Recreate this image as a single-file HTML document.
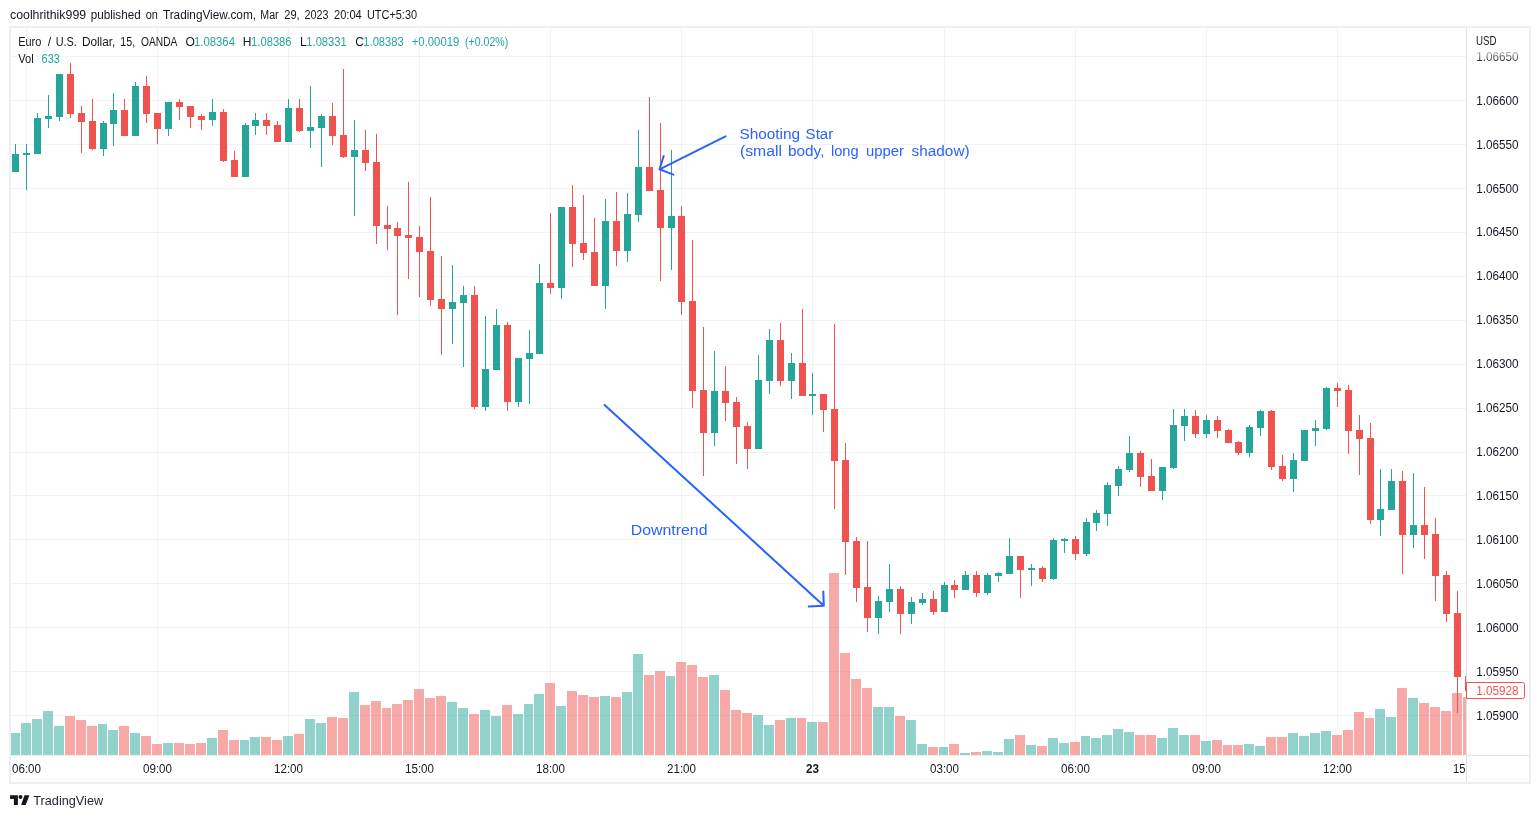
<!DOCTYPE html><html><head><meta charset="utf-8"><title>EURUSD chart</title>
<style>html,body{margin:0;padding:0;background:#fff;}body{width:1540px;height:818px;overflow:hidden;position:relative;font-family:"Liberation Sans",sans-serif;}svg{position:absolute;left:0;top:0;display:block;will-change:transform}text{font-family:"Liberation Sans",sans-serif;}</style></head><body>
<svg width="1540" height="818" viewBox="0 0 1540 818">
<rect x="0" y="0" width="1540" height="818" fill="#fff"/>
<linearGradient id="fade" gradientUnits="userSpaceOnUse" x1="0" y1="52" x2="0" y2="61"><stop offset="0" stop-color="#b4b7be"/><stop offset="1" stop-color="#2a2e39"/></linearGradient>
<clipPath id="pane"><rect x="11" y="28" width="1455" height="727"/></clipPath>
<g shape-rendering="crispEdges">
<g fill="rgba(42,46,57,0.06)">
<rect x="11" y="56" width="1455" height="1"/>
<rect x="11" y="100" width="1455" height="1"/>
<rect x="11" y="144" width="1455" height="1"/>
<rect x="11" y="188" width="1455" height="1"/>
<rect x="11" y="232" width="1455" height="1"/>
<rect x="11" y="276" width="1455" height="1"/>
<rect x="11" y="320" width="1455" height="1"/>
<rect x="11" y="364" width="1455" height="1"/>
<rect x="11" y="408" width="1455" height="1"/>
<rect x="11" y="452" width="1455" height="1"/>
<rect x="11" y="495" width="1455" height="1"/>
<rect x="11" y="539" width="1455" height="1"/>
<rect x="11" y="583" width="1455" height="1"/>
<rect x="11" y="627" width="1455" height="1"/>
<rect x="11" y="671" width="1455" height="1"/>
<rect x="11" y="715" width="1455" height="1"/>
<rect x="26" y="28" width="1" height="727"/>
<rect x="157" y="28" width="1" height="727"/>
<rect x="288" y="28" width="1" height="727"/>
<rect x="419" y="28" width="1" height="727"/>
<rect x="550" y="28" width="1" height="727"/>
<rect x="681" y="28" width="1" height="727"/>
<rect x="812" y="28" width="1" height="727"/>
<rect x="944" y="28" width="1" height="727"/>
<rect x="1075" y="28" width="1" height="727"/>
<rect x="1206" y="28" width="1" height="727"/>
<rect x="1337" y="28" width="1" height="727"/>
</g>
<g clip-path="url(#pane)">
<rect x="10" y="733" width="10" height="22" fill="#26a69a" fill-opacity="0.5"/>
<rect x="21" y="723" width="10" height="32" fill="#26a69a" fill-opacity="0.5"/>
<rect x="32" y="719" width="10" height="36" fill="#26a69a" fill-opacity="0.5"/>
<rect x="43" y="711" width="10" height="44" fill="#26a69a" fill-opacity="0.5"/>
<rect x="54" y="726" width="10" height="29" fill="#26a69a" fill-opacity="0.5"/>
<rect x="65" y="716" width="10" height="39" fill="#ef5350" fill-opacity="0.5"/>
<rect x="76" y="720" width="10" height="35" fill="#ef5350" fill-opacity="0.5"/>
<rect x="87" y="726" width="10" height="29" fill="#ef5350" fill-opacity="0.5"/>
<rect x="98" y="724" width="9" height="31" fill="#26a69a" fill-opacity="0.5"/>
<rect x="108" y="730" width="10" height="25" fill="#26a69a" fill-opacity="0.5"/>
<rect x="119" y="726" width="10" height="29" fill="#ef5350" fill-opacity="0.5"/>
<rect x="130" y="733" width="10" height="22" fill="#26a69a" fill-opacity="0.5"/>
<rect x="141" y="736" width="10" height="19" fill="#ef5350" fill-opacity="0.5"/>
<rect x="152" y="744" width="10" height="11" fill="#ef5350" fill-opacity="0.5"/>
<rect x="163" y="743" width="10" height="12" fill="#26a69a" fill-opacity="0.5"/>
<rect x="174" y="743" width="10" height="12" fill="#ef5350" fill-opacity="0.5"/>
<rect x="185" y="744" width="10" height="11" fill="#ef5350" fill-opacity="0.5"/>
<rect x="196" y="743" width="10" height="12" fill="#ef5350" fill-opacity="0.5"/>
<rect x="207" y="738" width="10" height="17" fill="#26a69a" fill-opacity="0.5"/>
<rect x="218" y="730" width="10" height="25" fill="#ef5350" fill-opacity="0.5"/>
<rect x="229" y="740" width="10" height="15" fill="#ef5350" fill-opacity="0.5"/>
<rect x="240" y="740" width="9" height="15" fill="#26a69a" fill-opacity="0.5"/>
<rect x="250" y="737" width="10" height="18" fill="#26a69a" fill-opacity="0.5"/>
<rect x="261" y="737" width="10" height="18" fill="#ef5350" fill-opacity="0.5"/>
<rect x="272" y="740" width="10" height="15" fill="#ef5350" fill-opacity="0.5"/>
<rect x="283" y="736" width="10" height="19" fill="#26a69a" fill-opacity="0.5"/>
<rect x="294" y="734" width="10" height="21" fill="#ef5350" fill-opacity="0.5"/>
<rect x="305" y="719" width="10" height="36" fill="#26a69a" fill-opacity="0.5"/>
<rect x="316" y="723" width="10" height="32" fill="#26a69a" fill-opacity="0.5"/>
<rect x="327" y="717" width="10" height="38" fill="#ef5350" fill-opacity="0.5"/>
<rect x="338" y="718" width="10" height="37" fill="#ef5350" fill-opacity="0.5"/>
<rect x="349" y="692" width="10" height="63" fill="#26a69a" fill-opacity="0.5"/>
<rect x="360" y="705" width="10" height="50" fill="#ef5350" fill-opacity="0.5"/>
<rect x="371" y="701" width="10" height="54" fill="#ef5350" fill-opacity="0.5"/>
<rect x="382" y="708" width="9" height="47" fill="#ef5350" fill-opacity="0.5"/>
<rect x="392" y="704" width="10" height="51" fill="#ef5350" fill-opacity="0.5"/>
<rect x="403" y="700" width="10" height="55" fill="#ef5350" fill-opacity="0.5"/>
<rect x="414" y="689" width="10" height="66" fill="#ef5350" fill-opacity="0.5"/>
<rect x="425" y="698" width="10" height="57" fill="#ef5350" fill-opacity="0.5"/>
<rect x="436" y="696" width="10" height="59" fill="#ef5350" fill-opacity="0.5"/>
<rect x="447" y="702" width="10" height="53" fill="#26a69a" fill-opacity="0.5"/>
<rect x="458" y="708" width="10" height="47" fill="#26a69a" fill-opacity="0.5"/>
<rect x="469" y="714" width="10" height="41" fill="#ef5350" fill-opacity="0.5"/>
<rect x="480" y="710" width="10" height="45" fill="#26a69a" fill-opacity="0.5"/>
<rect x="491" y="716" width="10" height="39" fill="#26a69a" fill-opacity="0.5"/>
<rect x="502" y="705" width="10" height="50" fill="#ef5350" fill-opacity="0.5"/>
<rect x="513" y="714" width="10" height="41" fill="#26a69a" fill-opacity="0.5"/>
<rect x="524" y="704" width="9" height="51" fill="#26a69a" fill-opacity="0.5"/>
<rect x="534" y="694" width="10" height="61" fill="#26a69a" fill-opacity="0.5"/>
<rect x="545" y="683" width="10" height="72" fill="#ef5350" fill-opacity="0.5"/>
<rect x="556" y="706" width="10" height="49" fill="#26a69a" fill-opacity="0.5"/>
<rect x="567" y="691" width="10" height="64" fill="#ef5350" fill-opacity="0.5"/>
<rect x="578" y="695" width="10" height="60" fill="#ef5350" fill-opacity="0.5"/>
<rect x="589" y="697" width="10" height="58" fill="#ef5350" fill-opacity="0.5"/>
<rect x="600" y="696" width="10" height="59" fill="#26a69a" fill-opacity="0.5"/>
<rect x="611" y="697" width="10" height="58" fill="#ef5350" fill-opacity="0.5"/>
<rect x="622" y="692" width="10" height="63" fill="#26a69a" fill-opacity="0.5"/>
<rect x="633" y="654" width="10" height="101" fill="#26a69a" fill-opacity="0.5"/>
<rect x="644" y="675" width="10" height="80" fill="#ef5350" fill-opacity="0.5"/>
<rect x="655" y="671" width="10" height="84" fill="#ef5350" fill-opacity="0.5"/>
<rect x="666" y="676" width="9" height="79" fill="#26a69a" fill-opacity="0.5"/>
<rect x="676" y="662" width="10" height="93" fill="#ef5350" fill-opacity="0.5"/>
<rect x="687" y="665" width="10" height="90" fill="#ef5350" fill-opacity="0.5"/>
<rect x="698" y="677" width="10" height="78" fill="#ef5350" fill-opacity="0.5"/>
<rect x="709" y="675" width="10" height="80" fill="#26a69a" fill-opacity="0.5"/>
<rect x="720" y="690" width="10" height="65" fill="#ef5350" fill-opacity="0.5"/>
<rect x="731" y="710" width="10" height="45" fill="#ef5350" fill-opacity="0.5"/>
<rect x="742" y="713" width="10" height="42" fill="#ef5350" fill-opacity="0.5"/>
<rect x="753" y="715" width="10" height="40" fill="#26a69a" fill-opacity="0.5"/>
<rect x="764" y="725" width="10" height="30" fill="#26a69a" fill-opacity="0.5"/>
<rect x="775" y="720" width="10" height="35" fill="#ef5350" fill-opacity="0.5"/>
<rect x="786" y="718" width="10" height="37" fill="#26a69a" fill-opacity="0.5"/>
<rect x="797" y="718" width="9" height="37" fill="#ef5350" fill-opacity="0.5"/>
<rect x="807" y="722" width="10" height="33" fill="#26a69a" fill-opacity="0.5"/>
<rect x="818" y="722" width="10" height="33" fill="#ef5350" fill-opacity="0.5"/>
<rect x="829" y="573" width="10" height="182" fill="#ef5350" fill-opacity="0.5"/>
<rect x="840" y="653" width="10" height="102" fill="#ef5350" fill-opacity="0.5"/>
<rect x="851" y="679" width="10" height="76" fill="#ef5350" fill-opacity="0.5"/>
<rect x="862" y="688" width="10" height="67" fill="#ef5350" fill-opacity="0.5"/>
<rect x="873" y="707" width="10" height="48" fill="#26a69a" fill-opacity="0.5"/>
<rect x="884" y="707" width="10" height="48" fill="#26a69a" fill-opacity="0.5"/>
<rect x="895" y="716" width="10" height="39" fill="#ef5350" fill-opacity="0.5"/>
<rect x="906" y="720" width="10" height="35" fill="#26a69a" fill-opacity="0.5"/>
<rect x="917" y="744" width="10" height="11" fill="#26a69a" fill-opacity="0.5"/>
<rect x="928" y="747" width="10" height="8" fill="#ef5350" fill-opacity="0.5"/>
<rect x="939" y="747" width="9" height="8" fill="#26a69a" fill-opacity="0.5"/>
<rect x="949" y="744" width="10" height="11" fill="#ef5350" fill-opacity="0.5"/>
<rect x="960" y="753" width="10" height="2" fill="#26a69a" fill-opacity="0.5"/>
<rect x="971" y="752" width="10" height="3" fill="#ef5350" fill-opacity="0.5"/>
<rect x="982" y="751" width="10" height="4" fill="#26a69a" fill-opacity="0.5"/>
<rect x="993" y="752" width="10" height="3" fill="#26a69a" fill-opacity="0.5"/>
<rect x="1004" y="739" width="10" height="16" fill="#26a69a" fill-opacity="0.5"/>
<rect x="1015" y="735" width="10" height="20" fill="#ef5350" fill-opacity="0.5"/>
<rect x="1026" y="745" width="10" height="10" fill="#26a69a" fill-opacity="0.5"/>
<rect x="1037" y="746" width="10" height="9" fill="#ef5350" fill-opacity="0.5"/>
<rect x="1048" y="738" width="10" height="17" fill="#26a69a" fill-opacity="0.5"/>
<rect x="1059" y="743" width="10" height="12" fill="#26a69a" fill-opacity="0.5"/>
<rect x="1070" y="742" width="10" height="13" fill="#ef5350" fill-opacity="0.5"/>
<rect x="1081" y="736" width="9" height="19" fill="#26a69a" fill-opacity="0.5"/>
<rect x="1091" y="738" width="10" height="17" fill="#26a69a" fill-opacity="0.5"/>
<rect x="1102" y="735" width="10" height="20" fill="#26a69a" fill-opacity="0.5"/>
<rect x="1113" y="729" width="10" height="26" fill="#26a69a" fill-opacity="0.5"/>
<rect x="1124" y="732" width="10" height="23" fill="#26a69a" fill-opacity="0.5"/>
<rect x="1135" y="735" width="10" height="20" fill="#ef5350" fill-opacity="0.5"/>
<rect x="1146" y="735" width="10" height="20" fill="#ef5350" fill-opacity="0.5"/>
<rect x="1157" y="738" width="10" height="17" fill="#26a69a" fill-opacity="0.5"/>
<rect x="1168" y="728" width="10" height="27" fill="#26a69a" fill-opacity="0.5"/>
<rect x="1179" y="735" width="10" height="20" fill="#26a69a" fill-opacity="0.5"/>
<rect x="1190" y="735" width="10" height="20" fill="#ef5350" fill-opacity="0.5"/>
<rect x="1201" y="741" width="10" height="14" fill="#26a69a" fill-opacity="0.5"/>
<rect x="1212" y="740" width="10" height="15" fill="#ef5350" fill-opacity="0.5"/>
<rect x="1223" y="745" width="9" height="10" fill="#ef5350" fill-opacity="0.5"/>
<rect x="1233" y="745" width="10" height="10" fill="#ef5350" fill-opacity="0.5"/>
<rect x="1244" y="744" width="10" height="11" fill="#26a69a" fill-opacity="0.5"/>
<rect x="1255" y="746" width="10" height="9" fill="#26a69a" fill-opacity="0.5"/>
<rect x="1266" y="737" width="10" height="18" fill="#ef5350" fill-opacity="0.5"/>
<rect x="1277" y="737" width="10" height="18" fill="#ef5350" fill-opacity="0.5"/>
<rect x="1288" y="733" width="10" height="22" fill="#26a69a" fill-opacity="0.5"/>
<rect x="1299" y="736" width="10" height="19" fill="#26a69a" fill-opacity="0.5"/>
<rect x="1310" y="733" width="10" height="22" fill="#26a69a" fill-opacity="0.5"/>
<rect x="1321" y="731" width="10" height="24" fill="#26a69a" fill-opacity="0.5"/>
<rect x="1332" y="735" width="10" height="20" fill="#ef5350" fill-opacity="0.5"/>
<rect x="1343" y="730" width="10" height="25" fill="#ef5350" fill-opacity="0.5"/>
<rect x="1354" y="712" width="10" height="43" fill="#ef5350" fill-opacity="0.5"/>
<rect x="1365" y="718" width="9" height="37" fill="#ef5350" fill-opacity="0.5"/>
<rect x="1375" y="709" width="10" height="46" fill="#26a69a" fill-opacity="0.5"/>
<rect x="1386" y="717" width="10" height="38" fill="#26a69a" fill-opacity="0.5"/>
<rect x="1397" y="688" width="10" height="67" fill="#ef5350" fill-opacity="0.5"/>
<rect x="1408" y="698" width="10" height="57" fill="#26a69a" fill-opacity="0.5"/>
<rect x="1419" y="703" width="10" height="52" fill="#ef5350" fill-opacity="0.5"/>
<rect x="1430" y="707" width="10" height="48" fill="#ef5350" fill-opacity="0.5"/>
<rect x="1441" y="711" width="10" height="44" fill="#ef5350" fill-opacity="0.5"/>
<rect x="1452" y="693" width="10" height="62" fill="#ef5350" fill-opacity="0.5"/>
<rect x="1463" y="697" width="10" height="58" fill="#ef5350" fill-opacity="0.5"/>
<rect x="15" y="144" width="1" height="28" fill="#26a69a"/>
<rect x="12" y="154" width="7" height="18" fill="#26a69a"/>
<rect x="26" y="144" width="1" height="46" fill="#26a69a"/>
<rect x="23" y="153" width="7" height="2" fill="#26a69a"/>
<rect x="37" y="113" width="1" height="41" fill="#26a69a"/>
<rect x="34" y="118" width="7" height="36" fill="#26a69a"/>
<rect x="48" y="95" width="1" height="33" fill="#26a69a"/>
<rect x="45" y="116" width="7" height="3" fill="#26a69a"/>
<rect x="59" y="74" width="1" height="47" fill="#26a69a"/>
<rect x="56" y="74" width="7" height="43" fill="#26a69a"/>
<rect x="70" y="63" width="1" height="55" fill="#ef5350"/>
<rect x="67" y="74" width="7" height="40" fill="#ef5350"/>
<rect x="81" y="106" width="1" height="47" fill="#ef5350"/>
<rect x="78" y="113" width="7" height="9" fill="#ef5350"/>
<rect x="92" y="99" width="1" height="51" fill="#ef5350"/>
<rect x="89" y="121" width="7" height="28" fill="#ef5350"/>
<rect x="103" y="121" width="1" height="35" fill="#26a69a"/>
<rect x="100" y="123" width="7" height="26" fill="#26a69a"/>
<rect x="113" y="93" width="1" height="53" fill="#26a69a"/>
<rect x="110" y="110" width="7" height="14" fill="#26a69a"/>
<rect x="124" y="99" width="1" height="37" fill="#ef5350"/>
<rect x="121" y="110" width="7" height="26" fill="#ef5350"/>
<rect x="135" y="82" width="1" height="54" fill="#26a69a"/>
<rect x="132" y="86" width="7" height="50" fill="#26a69a"/>
<rect x="146" y="76" width="1" height="47" fill="#ef5350"/>
<rect x="143" y="86" width="7" height="28" fill="#ef5350"/>
<rect x="157" y="113" width="1" height="31" fill="#ef5350"/>
<rect x="154" y="113" width="7" height="16" fill="#ef5350"/>
<rect x="168" y="102" width="1" height="34" fill="#26a69a"/>
<rect x="165" y="102" width="7" height="27" fill="#26a69a"/>
<rect x="179" y="99" width="1" height="21" fill="#ef5350"/>
<rect x="176" y="102" width="7" height="5" fill="#ef5350"/>
<rect x="190" y="106" width="1" height="22" fill="#ef5350"/>
<rect x="187" y="106" width="7" height="11" fill="#ef5350"/>
<rect x="201" y="114" width="1" height="16" fill="#ef5350"/>
<rect x="198" y="116" width="7" height="4" fill="#ef5350"/>
<rect x="212" y="99" width="1" height="27" fill="#26a69a"/>
<rect x="209" y="112" width="7" height="8" fill="#26a69a"/>
<rect x="223" y="109" width="1" height="53" fill="#ef5350"/>
<rect x="220" y="112" width="7" height="49" fill="#ef5350"/>
<rect x="234" y="151" width="1" height="26" fill="#ef5350"/>
<rect x="231" y="160" width="7" height="17" fill="#ef5350"/>
<rect x="245" y="123" width="1" height="54" fill="#26a69a"/>
<rect x="242" y="125" width="7" height="52" fill="#26a69a"/>
<rect x="255" y="113" width="1" height="22" fill="#26a69a"/>
<rect x="252" y="120" width="7" height="6" fill="#26a69a"/>
<rect x="266" y="113" width="1" height="22" fill="#ef5350"/>
<rect x="263" y="120" width="7" height="6" fill="#ef5350"/>
<rect x="277" y="121" width="1" height="21" fill="#ef5350"/>
<rect x="274" y="125" width="7" height="17" fill="#ef5350"/>
<rect x="288" y="99" width="1" height="43" fill="#26a69a"/>
<rect x="285" y="108" width="7" height="34" fill="#26a69a"/>
<rect x="299" y="99" width="1" height="33" fill="#ef5350"/>
<rect x="296" y="108" width="7" height="23" fill="#ef5350"/>
<rect x="310" y="86" width="1" height="62" fill="#26a69a"/>
<rect x="307" y="127" width="7" height="4" fill="#26a69a"/>
<rect x="321" y="114" width="1" height="53" fill="#26a69a"/>
<rect x="318" y="116" width="7" height="12" fill="#26a69a"/>
<rect x="332" y="103" width="1" height="42" fill="#ef5350"/>
<rect x="329" y="116" width="7" height="20" fill="#ef5350"/>
<rect x="343" y="69" width="1" height="89" fill="#ef5350"/>
<rect x="340" y="135" width="7" height="22" fill="#ef5350"/>
<rect x="354" y="120" width="1" height="96" fill="#26a69a"/>
<rect x="351" y="150" width="7" height="7" fill="#26a69a"/>
<rect x="365" y="130" width="1" height="41" fill="#ef5350"/>
<rect x="362" y="150" width="7" height="13" fill="#ef5350"/>
<rect x="376" y="134" width="1" height="110" fill="#ef5350"/>
<rect x="373" y="162" width="7" height="64" fill="#ef5350"/>
<rect x="387" y="206" width="1" height="44" fill="#ef5350"/>
<rect x="384" y="225" width="7" height="4" fill="#ef5350"/>
<rect x="397" y="222" width="1" height="93" fill="#ef5350"/>
<rect x="394" y="228" width="7" height="8" fill="#ef5350"/>
<rect x="408" y="182" width="1" height="97" fill="#ef5350"/>
<rect x="405" y="235" width="7" height="3" fill="#ef5350"/>
<rect x="419" y="226" width="1" height="71" fill="#ef5350"/>
<rect x="416" y="237" width="7" height="15" fill="#ef5350"/>
<rect x="430" y="197" width="1" height="109" fill="#ef5350"/>
<rect x="427" y="251" width="7" height="49" fill="#ef5350"/>
<rect x="441" y="256" width="1" height="99" fill="#ef5350"/>
<rect x="438" y="299" width="7" height="10" fill="#ef5350"/>
<rect x="452" y="265" width="1" height="79" fill="#26a69a"/>
<rect x="449" y="302" width="7" height="7" fill="#26a69a"/>
<rect x="463" y="286" width="1" height="81" fill="#26a69a"/>
<rect x="460" y="295" width="7" height="8" fill="#26a69a"/>
<rect x="474" y="286" width="1" height="123" fill="#ef5350"/>
<rect x="471" y="295" width="7" height="112" fill="#ef5350"/>
<rect x="485" y="316" width="1" height="95" fill="#26a69a"/>
<rect x="482" y="369" width="7" height="38" fill="#26a69a"/>
<rect x="496" y="309" width="1" height="61" fill="#26a69a"/>
<rect x="493" y="325" width="7" height="45" fill="#26a69a"/>
<rect x="507" y="322" width="1" height="89" fill="#ef5350"/>
<rect x="504" y="325" width="7" height="77" fill="#ef5350"/>
<rect x="518" y="358" width="1" height="49" fill="#26a69a"/>
<rect x="515" y="358" width="7" height="44" fill="#26a69a"/>
<rect x="529" y="330" width="1" height="74" fill="#26a69a"/>
<rect x="526" y="353" width="7" height="6" fill="#26a69a"/>
<rect x="539" y="264" width="1" height="90" fill="#26a69a"/>
<rect x="536" y="283" width="7" height="71" fill="#26a69a"/>
<rect x="550" y="213" width="1" height="81" fill="#ef5350"/>
<rect x="547" y="283" width="7" height="5" fill="#ef5350"/>
<rect x="561" y="207" width="1" height="92" fill="#26a69a"/>
<rect x="558" y="207" width="7" height="81" fill="#26a69a"/>
<rect x="572" y="185" width="1" height="82" fill="#ef5350"/>
<rect x="569" y="207" width="7" height="37" fill="#ef5350"/>
<rect x="583" y="195" width="1" height="65" fill="#ef5350"/>
<rect x="580" y="243" width="7" height="10" fill="#ef5350"/>
<rect x="594" y="218" width="1" height="68" fill="#ef5350"/>
<rect x="591" y="252" width="7" height="34" fill="#ef5350"/>
<rect x="605" y="199" width="1" height="110" fill="#26a69a"/>
<rect x="602" y="221" width="7" height="65" fill="#26a69a"/>
<rect x="616" y="192" width="1" height="74" fill="#ef5350"/>
<rect x="613" y="221" width="7" height="30" fill="#ef5350"/>
<rect x="627" y="193" width="1" height="69" fill="#26a69a"/>
<rect x="624" y="214" width="7" height="37" fill="#26a69a"/>
<rect x="638" y="130" width="1" height="92" fill="#26a69a"/>
<rect x="635" y="167" width="7" height="48" fill="#26a69a"/>
<rect x="649" y="97" width="1" height="94" fill="#ef5350"/>
<rect x="646" y="167" width="7" height="24" fill="#ef5350"/>
<rect x="660" y="123" width="1" height="158" fill="#ef5350"/>
<rect x="657" y="190" width="7" height="38" fill="#ef5350"/>
<rect x="671" y="150" width="1" height="120" fill="#26a69a"/>
<rect x="668" y="216" width="7" height="12" fill="#26a69a"/>
<rect x="681" y="206" width="1" height="109" fill="#ef5350"/>
<rect x="678" y="216" width="7" height="86" fill="#ef5350"/>
<rect x="692" y="240" width="1" height="168" fill="#ef5350"/>
<rect x="689" y="301" width="7" height="90" fill="#ef5350"/>
<rect x="703" y="327" width="1" height="149" fill="#ef5350"/>
<rect x="700" y="390" width="7" height="43" fill="#ef5350"/>
<rect x="714" y="351" width="1" height="95" fill="#26a69a"/>
<rect x="711" y="391" width="7" height="42" fill="#26a69a"/>
<rect x="725" y="366" width="1" height="55" fill="#ef5350"/>
<rect x="722" y="391" width="7" height="12" fill="#ef5350"/>
<rect x="736" y="397" width="1" height="67" fill="#ef5350"/>
<rect x="733" y="402" width="7" height="25" fill="#ef5350"/>
<rect x="747" y="422" width="1" height="47" fill="#ef5350"/>
<rect x="744" y="426" width="7" height="23" fill="#ef5350"/>
<rect x="758" y="355" width="1" height="94" fill="#26a69a"/>
<rect x="755" y="380" width="7" height="69" fill="#26a69a"/>
<rect x="769" y="329" width="1" height="65" fill="#26a69a"/>
<rect x="766" y="340" width="7" height="41" fill="#26a69a"/>
<rect x="780" y="323" width="1" height="63" fill="#ef5350"/>
<rect x="777" y="340" width="7" height="41" fill="#ef5350"/>
<rect x="791" y="353" width="1" height="46" fill="#26a69a"/>
<rect x="788" y="363" width="7" height="18" fill="#26a69a"/>
<rect x="802" y="309" width="1" height="87" fill="#ef5350"/>
<rect x="799" y="363" width="7" height="33" fill="#ef5350"/>
<rect x="812" y="373" width="1" height="42" fill="#26a69a"/>
<rect x="809" y="394" width="7" height="2" fill="#26a69a"/>
<rect x="823" y="394" width="1" height="38" fill="#ef5350"/>
<rect x="820" y="394" width="7" height="16" fill="#ef5350"/>
<rect x="834" y="324" width="1" height="185" fill="#ef5350"/>
<rect x="831" y="409" width="7" height="52" fill="#ef5350"/>
<rect x="845" y="443" width="1" height="132" fill="#ef5350"/>
<rect x="842" y="460" width="7" height="82" fill="#ef5350"/>
<rect x="856" y="537" width="1" height="65" fill="#ef5350"/>
<rect x="853" y="541" width="7" height="47" fill="#ef5350"/>
<rect x="867" y="541" width="1" height="91" fill="#ef5350"/>
<rect x="864" y="587" width="7" height="31" fill="#ef5350"/>
<rect x="878" y="596" width="1" height="38" fill="#26a69a"/>
<rect x="875" y="601" width="7" height="17" fill="#26a69a"/>
<rect x="889" y="564" width="1" height="48" fill="#26a69a"/>
<rect x="886" y="589" width="7" height="13" fill="#26a69a"/>
<rect x="900" y="586" width="1" height="48" fill="#ef5350"/>
<rect x="897" y="589" width="7" height="25" fill="#ef5350"/>
<rect x="911" y="597" width="1" height="27" fill="#26a69a"/>
<rect x="908" y="602" width="7" height="12" fill="#26a69a"/>
<rect x="922" y="593" width="1" height="12" fill="#26a69a"/>
<rect x="919" y="599" width="7" height="4" fill="#26a69a"/>
<rect x="933" y="591" width="1" height="24" fill="#ef5350"/>
<rect x="930" y="599" width="7" height="13" fill="#ef5350"/>
<rect x="944" y="582" width="1" height="30" fill="#26a69a"/>
<rect x="941" y="585" width="7" height="27" fill="#26a69a"/>
<rect x="954" y="580" width="1" height="18" fill="#ef5350"/>
<rect x="951" y="585" width="7" height="5" fill="#ef5350"/>
<rect x="965" y="571" width="1" height="19" fill="#26a69a"/>
<rect x="962" y="575" width="7" height="15" fill="#26a69a"/>
<rect x="976" y="571" width="1" height="26" fill="#ef5350"/>
<rect x="973" y="575" width="7" height="18" fill="#ef5350"/>
<rect x="987" y="573" width="1" height="22" fill="#26a69a"/>
<rect x="984" y="575" width="7" height="18" fill="#26a69a"/>
<rect x="998" y="572" width="1" height="10" fill="#26a69a"/>
<rect x="995" y="573" width="7" height="3" fill="#26a69a"/>
<rect x="1009" y="538" width="1" height="36" fill="#26a69a"/>
<rect x="1006" y="556" width="7" height="18" fill="#26a69a"/>
<rect x="1020" y="556" width="1" height="42" fill="#ef5350"/>
<rect x="1017" y="556" width="7" height="14" fill="#ef5350"/>
<rect x="1031" y="564" width="1" height="22" fill="#26a69a"/>
<rect x="1028" y="568" width="7" height="2" fill="#26a69a"/>
<rect x="1042" y="566" width="1" height="16" fill="#ef5350"/>
<rect x="1039" y="568" width="7" height="11" fill="#ef5350"/>
<rect x="1053" y="538" width="1" height="42" fill="#26a69a"/>
<rect x="1050" y="540" width="7" height="39" fill="#26a69a"/>
<rect x="1064" y="538" width="1" height="15" fill="#26a69a"/>
<rect x="1061" y="539" width="7" height="2" fill="#26a69a"/>
<rect x="1075" y="536" width="1" height="24" fill="#ef5350"/>
<rect x="1072" y="539" width="7" height="15" fill="#ef5350"/>
<rect x="1086" y="518" width="1" height="38" fill="#26a69a"/>
<rect x="1083" y="522" width="7" height="32" fill="#26a69a"/>
<rect x="1096" y="510" width="1" height="21" fill="#26a69a"/>
<rect x="1093" y="513" width="7" height="10" fill="#26a69a"/>
<rect x="1107" y="482" width="1" height="44" fill="#26a69a"/>
<rect x="1104" y="485" width="7" height="29" fill="#26a69a"/>
<rect x="1118" y="466" width="1" height="30" fill="#26a69a"/>
<rect x="1115" y="469" width="7" height="17" fill="#26a69a"/>
<rect x="1129" y="436" width="1" height="36" fill="#26a69a"/>
<rect x="1126" y="453" width="7" height="17" fill="#26a69a"/>
<rect x="1140" y="451" width="1" height="36" fill="#ef5350"/>
<rect x="1137" y="453" width="7" height="24" fill="#ef5350"/>
<rect x="1151" y="459" width="1" height="32" fill="#ef5350"/>
<rect x="1148" y="476" width="7" height="15" fill="#ef5350"/>
<rect x="1162" y="467" width="1" height="33" fill="#26a69a"/>
<rect x="1159" y="467" width="7" height="24" fill="#26a69a"/>
<rect x="1173" y="409" width="1" height="60" fill="#26a69a"/>
<rect x="1170" y="425" width="7" height="43" fill="#26a69a"/>
<rect x="1184" y="409" width="1" height="32" fill="#26a69a"/>
<rect x="1181" y="416" width="7" height="10" fill="#26a69a"/>
<rect x="1195" y="410" width="1" height="28" fill="#ef5350"/>
<rect x="1192" y="416" width="7" height="18" fill="#ef5350"/>
<rect x="1206" y="415" width="1" height="23" fill="#26a69a"/>
<rect x="1203" y="420" width="7" height="14" fill="#26a69a"/>
<rect x="1217" y="416" width="1" height="22" fill="#ef5350"/>
<rect x="1214" y="420" width="7" height="11" fill="#ef5350"/>
<rect x="1228" y="429" width="1" height="14" fill="#ef5350"/>
<rect x="1225" y="430" width="7" height="13" fill="#ef5350"/>
<rect x="1238" y="441" width="1" height="14" fill="#ef5350"/>
<rect x="1235" y="442" width="7" height="11" fill="#ef5350"/>
<rect x="1249" y="425" width="1" height="32" fill="#26a69a"/>
<rect x="1246" y="427" width="7" height="26" fill="#26a69a"/>
<rect x="1260" y="410" width="1" height="26" fill="#26a69a"/>
<rect x="1257" y="411" width="7" height="17" fill="#26a69a"/>
<rect x="1271" y="410" width="1" height="60" fill="#ef5350"/>
<rect x="1268" y="411" width="7" height="56" fill="#ef5350"/>
<rect x="1282" y="455" width="1" height="26" fill="#ef5350"/>
<rect x="1279" y="466" width="7" height="13" fill="#ef5350"/>
<rect x="1293" y="453" width="1" height="39" fill="#26a69a"/>
<rect x="1290" y="460" width="7" height="19" fill="#26a69a"/>
<rect x="1304" y="430" width="1" height="31" fill="#26a69a"/>
<rect x="1301" y="430" width="7" height="31" fill="#26a69a"/>
<rect x="1315" y="420" width="1" height="26" fill="#26a69a"/>
<rect x="1312" y="428" width="7" height="3" fill="#26a69a"/>
<rect x="1326" y="387" width="1" height="43" fill="#26a69a"/>
<rect x="1323" y="388" width="7" height="41" fill="#26a69a"/>
<rect x="1337" y="383" width="1" height="24" fill="#ef5350"/>
<rect x="1334" y="388" width="7" height="3" fill="#ef5350"/>
<rect x="1348" y="385" width="1" height="69" fill="#ef5350"/>
<rect x="1345" y="390" width="7" height="41" fill="#ef5350"/>
<rect x="1359" y="415" width="1" height="60" fill="#ef5350"/>
<rect x="1356" y="430" width="7" height="9" fill="#ef5350"/>
<rect x="1370" y="423" width="1" height="101" fill="#ef5350"/>
<rect x="1367" y="438" width="7" height="82" fill="#ef5350"/>
<rect x="1380" y="469" width="1" height="67" fill="#26a69a"/>
<rect x="1377" y="509" width="7" height="11" fill="#26a69a"/>
<rect x="1391" y="469" width="1" height="41" fill="#26a69a"/>
<rect x="1388" y="481" width="7" height="29" fill="#26a69a"/>
<rect x="1402" y="471" width="1" height="103" fill="#ef5350"/>
<rect x="1399" y="481" width="7" height="54" fill="#ef5350"/>
<rect x="1413" y="473" width="1" height="75" fill="#26a69a"/>
<rect x="1410" y="525" width="7" height="10" fill="#26a69a"/>
<rect x="1424" y="487" width="1" height="72" fill="#ef5350"/>
<rect x="1421" y="525" width="7" height="10" fill="#ef5350"/>
<rect x="1435" y="518" width="1" height="83" fill="#ef5350"/>
<rect x="1432" y="534" width="7" height="42" fill="#ef5350"/>
<rect x="1446" y="571" width="1" height="51" fill="#ef5350"/>
<rect x="1443" y="575" width="7" height="39" fill="#ef5350"/>
<rect x="1457" y="591" width="1" height="122" fill="#ef5350"/>
<rect x="1454" y="613" width="7" height="64" fill="#ef5350"/>
<rect x="1468" y="676" width="1" height="15" fill="#ef5350"/>
<rect x="1465" y="676" width="7" height="15" fill="#ef5350"/>
</g>
<rect x="1466" y="28" width="1" height="754" fill="#e1e1e5"/>
<rect x="11" y="755" width="1455" height="1" fill="rgba(42,46,57,0.08)"/>
<rect x="1466" y="755" width="63" height="1" fill="#e1e1e5"/>
<g fill="#edeff5"><rect x="9" y="26" width="1522" height="2"/><rect x="9" y="782" width="1522" height="2"/><rect x="9" y="26" width="2" height="758"/><rect x="1529" y="26" width="2" height="758"/></g>
</g>
<text x="10" y="18.6" font-size="12" fill="#131722" textLength="76.1" lengthAdjust="spacingAndGlyphs">coolhrithik999</text>
<text x="90.7" y="18.6" font-size="12" fill="#131722" textLength="50.0" lengthAdjust="spacingAndGlyphs">published</text>
<text x="145.7" y="18.6" font-size="12" fill="#131722" textLength="12.2" lengthAdjust="spacingAndGlyphs">on</text>
<text x="162.9" y="18.6" font-size="12" fill="#131722" textLength="93.1" lengthAdjust="spacingAndGlyphs">TradingView.com,</text>
<text x="260.3" y="18.6" font-size="12" fill="#131722" textLength="18.3" lengthAdjust="spacingAndGlyphs">Mar</text>
<text x="284.3" y="18.6" font-size="12" fill="#131722" textLength="15.4" lengthAdjust="spacingAndGlyphs">29,</text>
<text x="304.6" y="18.6" font-size="12" fill="#131722" textLength="24.0" lengthAdjust="spacingAndGlyphs">2023</text>
<text x="334" y="18.6" font-size="12" fill="#131722" textLength="27.7" lengthAdjust="spacingAndGlyphs">20:04</text>
<text x="366.9" y="18.6" font-size="12" fill="#131722" textLength="50.2" lengthAdjust="spacingAndGlyphs">UTC+5:30</text>
<text x="18.2" y="45.8" font-size="12" fill="#131722" textLength="23.2" lengthAdjust="spacingAndGlyphs">Euro</text>
<text x="47.8" y="45.8" font-size="12" fill="#131722" textLength="3.4" lengthAdjust="spacingAndGlyphs">/</text>
<text x="55.7" y="45.8" font-size="12" fill="#131722" textLength="21.2" lengthAdjust="spacingAndGlyphs">U.S.</text>
<text x="81.9" y="45.8" font-size="12" fill="#131722" textLength="33.5" lengthAdjust="spacingAndGlyphs">Dollar,</text>
<text x="120.3" y="45.8" font-size="12" fill="#131722" textLength="14.8" lengthAdjust="spacingAndGlyphs">15,</text>
<text x="141" y="45.8" font-size="12" fill="#131722" textLength="36.4" lengthAdjust="spacingAndGlyphs">OANDA</text>
<text x="185.5" y="45.8" font-size="12" fill="#131722">O</text>
<text x="194" y="45.8" font-size="12" fill="#26a69a" textLength="41" lengthAdjust="spacingAndGlyphs">1.08364</text>
<text x="242.8" y="45.8" font-size="12" fill="#131722">H</text>
<text x="251.1" y="45.8" font-size="12" fill="#26a69a" textLength="40.5" lengthAdjust="spacingAndGlyphs">1.08386</text>
<text x="300.1" y="45.8" font-size="12" fill="#131722">L</text>
<text x="306.3" y="45.8" font-size="12" fill="#26a69a" textLength="40.5" lengthAdjust="spacingAndGlyphs">1.08331</text>
<text x="355.2" y="45.8" font-size="12" fill="#131722">C</text>
<text x="363.3" y="45.8" font-size="12" fill="#26a69a" textLength="40.5" lengthAdjust="spacingAndGlyphs">1.08383</text>
<text x="411.7" y="45.8" font-size="12" fill="#26a69a" textLength="47.7" lengthAdjust="spacingAndGlyphs">+0.00019</text>
<text x="465" y="45.8" font-size="12" fill="#26a69a" textLength="43.3" lengthAdjust="spacingAndGlyphs">(+0.02%)</text>
<text x="18.3" y="62.6" font-size="12" fill="#131722" textLength="15.5" lengthAdjust="spacingAndGlyphs">Vol</text>
<text x="41.6" y="62.6" font-size="12" fill="#26a69a" textLength="18.2" lengthAdjust="spacingAndGlyphs">633</text>
<text x="1476" y="44.6" font-size="12" fill="#131722" textLength="20.5" lengthAdjust="spacingAndGlyphs">USD</text>
<text x="1476.2" y="61" font-size="12" fill="url(#fade)" textLength="42.3" lengthAdjust="spacingAndGlyphs">1.06650</text>
<text x="1476.2" y="105" font-size="12" fill="#131722" textLength="42.3" lengthAdjust="spacingAndGlyphs">1.06600</text>
<text x="1476.2" y="149" font-size="12" fill="#131722" textLength="42.3" lengthAdjust="spacingAndGlyphs">1.06550</text>
<text x="1476.2" y="193" font-size="12" fill="#131722" textLength="42.3" lengthAdjust="spacingAndGlyphs">1.06500</text>
<text x="1476.2" y="236" font-size="12" fill="#131722" textLength="42.3" lengthAdjust="spacingAndGlyphs">1.06450</text>
<text x="1476.2" y="280" font-size="12" fill="#131722" textLength="42.3" lengthAdjust="spacingAndGlyphs">1.06400</text>
<text x="1476.2" y="324" font-size="12" fill="#131722" textLength="42.3" lengthAdjust="spacingAndGlyphs">1.06350</text>
<text x="1476.2" y="368" font-size="12" fill="#131722" textLength="42.3" lengthAdjust="spacingAndGlyphs">1.06300</text>
<text x="1476.2" y="412" font-size="12" fill="#131722" textLength="42.3" lengthAdjust="spacingAndGlyphs">1.06250</text>
<text x="1476.2" y="456" font-size="12" fill="#131722" textLength="42.3" lengthAdjust="spacingAndGlyphs">1.06200</text>
<text x="1476.2" y="500" font-size="12" fill="#131722" textLength="42.3" lengthAdjust="spacingAndGlyphs">1.06150</text>
<text x="1476.2" y="544" font-size="12" fill="#131722" textLength="42.3" lengthAdjust="spacingAndGlyphs">1.06100</text>
<text x="1476.2" y="588" font-size="12" fill="#131722" textLength="42.3" lengthAdjust="spacingAndGlyphs">1.06050</text>
<text x="1476.2" y="632" font-size="12" fill="#131722" textLength="42.3" lengthAdjust="spacingAndGlyphs">1.06000</text>
<text x="1476.2" y="676" font-size="12" fill="#131722" textLength="42.3" lengthAdjust="spacingAndGlyphs">1.05950</text>
<text x="1476.2" y="720" font-size="12" fill="#131722" textLength="42.3" lengthAdjust="spacingAndGlyphs">1.05900</text>
<path d="M1466.5 682.5 H1522.5 Q1524.5 682.5 1524.5 684.5 V696.5 Q1524.5 698.5 1522.5 698.5 H1466.5 Z" fill="#fff" stroke="#ef5350" stroke-width="1"/>
<text x="1476.2" y="694.8" font-size="12" fill="#ef5350" textLength="42.3" lengthAdjust="spacingAndGlyphs">1.05928</text>
<text x="26.5" y="772.7" font-size="12" fill="#131722" text-anchor="middle" textLength="29" lengthAdjust="spacingAndGlyphs">06:00</text>
<text x="157.5" y="772.7" font-size="12" fill="#131722" text-anchor="middle" textLength="29" lengthAdjust="spacingAndGlyphs">09:00</text>
<text x="288.5" y="772.7" font-size="12" fill="#131722" text-anchor="middle" textLength="29" lengthAdjust="spacingAndGlyphs">12:00</text>
<text x="419.5" y="772.7" font-size="12" fill="#131722" text-anchor="middle" textLength="29" lengthAdjust="spacingAndGlyphs">15:00</text>
<text x="550.5" y="772.7" font-size="12" fill="#131722" text-anchor="middle" textLength="29" lengthAdjust="spacingAndGlyphs">18:00</text>
<text x="681.5" y="772.7" font-size="12" fill="#131722" text-anchor="middle" textLength="29" lengthAdjust="spacingAndGlyphs">21:00</text>
<text x="812.5" y="772.7" font-size="12" fill="#131722" text-anchor="middle" textLength="13" lengthAdjust="spacingAndGlyphs" font-weight="bold">23</text>
<text x="944.5" y="772.7" font-size="12" fill="#131722" text-anchor="middle" textLength="29" lengthAdjust="spacingAndGlyphs">03:00</text>
<text x="1075.5" y="772.7" font-size="12" fill="#131722" text-anchor="middle" textLength="29" lengthAdjust="spacingAndGlyphs">06:00</text>
<text x="1206.5" y="772.7" font-size="12" fill="#131722" text-anchor="middle" textLength="29" lengthAdjust="spacingAndGlyphs">09:00</text>
<text x="1337.5" y="772.7" font-size="12" fill="#131722" text-anchor="middle" textLength="29" lengthAdjust="spacingAndGlyphs">12:00</text>
<text x="1465.5" y="772.7" font-size="12" fill="#131722" text-anchor="end" textLength="12.5" lengthAdjust="spacingAndGlyphs">15</text>
<g stroke="#2962ff" stroke-width="2" fill="none" stroke-linecap="round" stroke-linejoin="round">
<path d="M725.5 136.4 L659.5 169.3 M663.7 156 L659.5 169.3 L673.4 174.6"/>
<path d="M604.6 404.9 L823.8 605.7 M823.3 591.4 L823.8 605.7 L808.7 606.6"/>
</g>
<text x="739.4" y="139.3" font-size="14" fill="#2962ff" textLength="60.7" lengthAdjust="spacingAndGlyphs">Shooting</text>
<text x="805.6" y="139.3" font-size="14" fill="#2962ff" textLength="27.6" lengthAdjust="spacingAndGlyphs">Star</text>
<text x="740" y="156" font-size="14" fill="#2962ff" textLength="42" lengthAdjust="spacingAndGlyphs">(small</text>
<text x="788" y="156" font-size="14" fill="#2962ff" textLength="36.4" lengthAdjust="spacingAndGlyphs">body,</text>
<text x="831" y="156" font-size="14" fill="#2962ff" textLength="27.6" lengthAdjust="spacingAndGlyphs">long</text>
<text x="865.9" y="156" font-size="14" fill="#2962ff" textLength="38.0" lengthAdjust="spacingAndGlyphs">upper</text>
<text x="911.6" y="156" font-size="14" fill="#2962ff" textLength="58.0" lengthAdjust="spacingAndGlyphs">shadow)</text>
<text x="630.7" y="534.8" font-size="14" fill="#2962ff" textLength="76.8" lengthAdjust="spacingAndGlyphs">Downtrend</text>
<g fill="#131722"><path d="M10.1 795.2 H17.9 V804.9 H13.9 V799 H10.1 Z"/><circle cx="20.5" cy="796.9" r="2"/><path d="M24.5 795.2 H29.4 L25.7 804.9 H21.1 Z"/></g>
<text x="33.3" y="804.9" font-size="13" fill="#1e222d" textLength="69.8" lengthAdjust="spacingAndGlyphs">TradingView</text>
</svg></body></html>
